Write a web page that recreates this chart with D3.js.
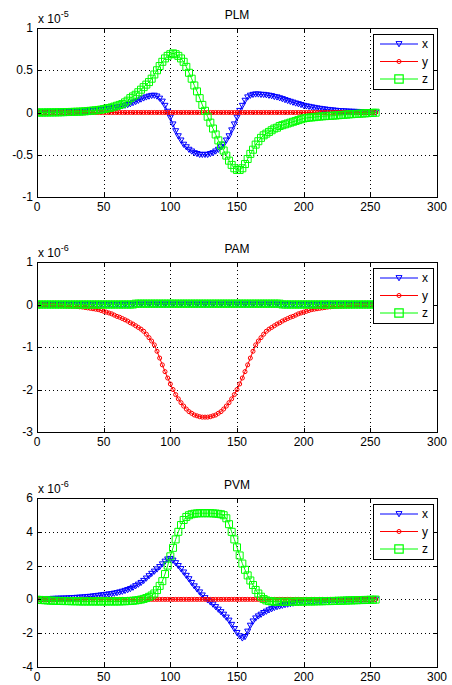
<!DOCTYPE html>
<html>
<head>
    <meta charset="utf-8">
    <title>PLM / PAM / PVM</title>
    <script src="https://d3js.org/d3.v7.min.js"></script>
    <style>
        body { margin: 0; background: #fff; }
        svg text { font-family: 'Liberation Sans', Arial, sans-serif; fill: #000; }
    </style>
</head>
<body>
    <svg id="chart" width="452" height="685"></svg>
    <script>
        // sample index (0..254, every 2nd sample)
        var samples = d3.range(0, 255, 2);

        var xTicks = [0, 50, 100, 150, 200, 250, 300];
        var plmTicks = [-1, -0.5, 0, 0.5, 1];
        var pamTicks = [-3, -2, -1, 0, 1];
        var pvmTicks = [-4, -2, 0, 2, 4, 6];
        var seriesNames = ["x", "y", "z"];

        // PLM, units of 1e-5
        var plmX = [
            0, 0, 0, 0.001, 0.001, 0.002, 0.002, 0.003, 0.004, 0.004,
            0.005, 0.006, 0.007, 0.008, 0.009, 0.01, 0.011, 0.012, 0.014, 0.016,
            0.02, 0.022, 0.025, 0.028, 0.031, 0.035, 0.039, 0.044, 0.049, 0.055,
            0.06, 0.066, 0.074, 0.082, 0.09, 0.1, 0.113, 0.126, 0.14, 0.155,
            0.168, 0.18, 0.19, 0.198, 0.2, 0.19, 0.165, 0.13, 0.08, 0.01,
            -0.06, -0.14, -0.22, -0.28, -0.33, -0.38, -0.41, -0.44, -0.46, -0.48,
            -0.49, -0.5, -0.5, -0.5, -0.5, -0.49, -0.48, -0.46, -0.44, -0.41,
            -0.38, -0.33, -0.28, -0.21, -0.14, -0.06, 0.02, 0.08, 0.14, 0.18,
            0.2, 0.21, 0.215, 0.215, 0.21, 0.21, 0.205, 0.2, 0.195, 0.185,
            0.18, 0.17, 0.16, 0.148, 0.138, 0.128, 0.118, 0.108, 0.1, 0.09,
            0.08, 0.074, 0.068, 0.062, 0.056, 0.05, 0.045, 0.04, 0.036, 0.032,
            0.028, 0.025, 0.022, 0.019, 0.017, 0.015, 0.013, 0.011, 0.01, 0.009,
            0.008, 0.007, 0.006, 0.005, 0.004, 0.003, 0.002, 0.001
        ];
        var plmY = [
            0, 0, 0, 0, 0, 0, 0, 0, 0, 0, 0, 0, 0, 0, 0, 0, 0, 0, 0, 0,
            0, 0, 0, 0, 0, 0, 0, 0, 0, 0, 0, 0, 0, 0, 0, 0, 0, 0, 0, 0,
            0, 0, 0, 0, 0, 0, 0, 0, 0, 0, 0, 0, 0, 0, 0, 0, 0, 0, 0, 0,
            0, 0, 0, 0, 0, 0, 0, 0, 0, 0, 0, 0, 0, 0, 0, 0, 0, 0, 0, 0,
            0, 0, 0, 0, 0, 0, 0, 0, 0, 0, 0, 0, 0, 0, 0, 0, 0, 0, 0, 0,
            0, 0, 0, 0, 0, 0, 0, 0, 0, 0, 0, 0, 0, 0, 0, 0, 0, 0, 0, 0,
            0, 0, 0, 0, 0, 0, 0, 0
        ];
        var plmZ = [
            0, 0, 0, 0, 0.001, 0.001, 0.001, 0.002, 0.002, 0.003,
            0.004, 0.005, 0.006, 0.007, 0.008, 0.009, 0.01, 0.012, 0.014, 0.017,
            0.02, 0.023, 0.026, 0.03, 0.034, 0.04, 0.046, 0.053, 0.06, 0.07,
            0.08, 0.09, 0.1, 0.12, 0.14, 0.17, 0.19, 0.21, 0.24, 0.27,
            0.3, 0.33, 0.36, 0.4, 0.45, 0.5, 0.55, 0.6, 0.64, 0.67,
            0.69, 0.7, 0.69, 0.67, 0.64, 0.6, 0.54, 0.47, 0.4, 0.32,
            0.25, 0.17, 0.09, 0.02, -0.05, -0.12, -0.19, -0.26, -0.33, -0.39,
            -0.45, -0.51, -0.57, -0.62, -0.66, -0.68, -0.68, -0.66, -0.61, -0.55,
            -0.49, -0.44, -0.38, -0.34, -0.3, -0.27, -0.25, -0.23, -0.21, -0.19,
            -0.18, -0.16, -0.15, -0.14, -0.13, -0.12, -0.11, -0.1, -0.09, -0.08,
            -0.07, -0.065, -0.06, -0.058, -0.055, -0.05, -0.048, -0.045, -0.043, -0.04,
            -0.04, -0.037, -0.035, -0.032, -0.03, -0.028, -0.025, -0.022, -0.02, -0.018,
            -0.016, -0.014, -0.012, -0.01, -0.008, -0.006, -0.004, -0.002
        ];

        // PAM, units of 1e-6
        var pamX = [
            0, 0, 0, 0, 0, 0, 0, 0, 0, 0, 0, 0, 0, 0, 0, 0, 0, 0, 0, 0,
            0, 0, 0, 0, 0, 0, 0, 0, 0, 0, 0, 0, 0, 0, 0, 0, 0, 0, 0, 0,
            0, 0, 0, 0, 0, 0, 0, 0, 0, 0, 0, 0, 0, 0, 0, 0, 0, 0, 0, 0,
            0, 0, 0, 0, 0, 0, 0, 0, 0, 0, 0, 0, 0, 0, 0, 0, 0, 0, 0, 0,
            0, 0, 0, 0, 0, 0, 0, 0, 0, 0, 0, 0, 0, 0, 0, 0, 0, 0, 0, 0,
            0, 0, 0, 0, 0, 0, 0, 0, 0, 0, 0, 0, 0, 0, 0, 0, 0, 0, 0, 0,
            0, 0, 0, 0, 0, 0, 0, 0
        ];
        var pamY = [
            -0.01, -0.01, -0.012, -0.015, -0.017, -0.02, -0.022, -0.025, -0.028, -0.031,
            -0.034, -0.037, -0.04, -0.042, -0.045, -0.05, -0.055, -0.06, -0.07, -0.08,
            -0.09, -0.1, -0.11, -0.12, -0.14, -0.16, -0.18, -0.2, -0.22, -0.25,
            -0.28, -0.3, -0.33, -0.36, -0.39, -0.43, -0.46, -0.5, -0.54, -0.58,
            -0.63, -0.7, -0.78, -0.86, -0.95, -1.1, -1.26, -1.42, -1.58, -1.73,
            -1.87, -2.0, -2.12, -2.22, -2.31, -2.39, -2.46, -2.52, -2.56, -2.6,
            -2.62, -2.64, -2.65, -2.65, -2.65, -2.64, -2.62, -2.6, -2.56, -2.52,
            -2.46, -2.39, -2.31, -2.22, -2.12, -2.0, -1.87, -1.73, -1.58, -1.42,
            -1.26, -1.1, -0.95, -0.86, -0.78, -0.7, -0.63, -0.58, -0.54, -0.5,
            -0.46, -0.43, -0.39, -0.36, -0.33, -0.3, -0.28, -0.25, -0.22, -0.2,
            -0.18, -0.16, -0.14, -0.12, -0.11, -0.1, -0.09, -0.08, -0.07, -0.06,
            -0.055, -0.05, -0.045, -0.042, -0.04, -0.037, -0.034, -0.031, -0.028, -0.025,
            -0.022, -0.02, -0.017, -0.015, -0.012, -0.01, -0.01, -0.01
        ];
        var pamZ = [
            0, 0, 0, 0, 0, 0, 0, 0, 0, 0, 0, 0, 0, 0, 0, 0, 0, 0, 0, 0,
            0, 0, 0, 0, 0, 0, 0, 0, 0, 0, 0, 0, 0, 0, 0, 0, 0, 0.02, 0.02, 0.02,
            0.02, 0.02, 0.02, 0.02, 0.02, 0.02, 0.02, 0.02, 0.02, 0.02, 0.02, 0.02, 0.02, 0.02, 0.02, 0.02, 0.02, 0.02, 0.02, 0.02,
            0.02, 0.02, 0.02, 0.02, 0.02, 0.02, 0.02, 0.02, 0.02, 0.02, 0.02, 0.02, 0.02, 0.02, 0.02, 0.02, 0.02, 0.02, 0.02, 0.02,
            0.02, 0.02, 0.02, 0.02, 0.02, 0.02, 0.02, 0.02, 0.02, 0.02, 0.02, 0.02, 0, 0, 0, 0, 0, 0, 0, 0,
            0, 0, 0, 0, 0, 0, 0, 0, 0, 0, 0, 0, 0, 0, 0, 0, 0, 0, 0, 0,
            0, 0, 0, 0, 0, 0, 0, 0
        ];

        // PVM, units of 1e-6
        var pvmX = [
            0.02, 0.02, 0.02, 0.03, 0.03, 0.03, 0.04, 0.04, 0.05, 0.05,
            0.06, 0.06, 0.07, 0.08, 0.09, 0.1, 0.11, 0.12, 0.13, 0.15,
            0.16, 0.18, 0.2, 0.22, 0.24, 0.26, 0.28, 0.3, 0.32, 0.35,
            0.38, 0.42, 0.46, 0.51, 0.56, 0.62, 0.7, 0.79, 0.88, 0.98,
            1.1, 1.24, 1.38, 1.52, 1.65, 1.78, 1.92, 2.08, 2.24, 2.37,
            2.4, 2.3, 2.15, 1.98, 1.8, 1.6, 1.4, 1.2, 0.98, 0.78,
            0.6, 0.42, 0.24, 0.08, -0.05, -0.17, -0.3, -0.45, -0.6, -0.75,
            -0.9, -1.07, -1.25, -1.5, -1.75, -1.98, -2.18, -2.3, -2.22, -1.9,
            -1.55, -1.3, -1.12, -1.0, -0.9, -0.8, -0.72, -0.64, -0.57, -0.5,
            -0.45, -0.41, -0.37, -0.33, -0.3, -0.27, -0.24, -0.21, -0.19, -0.17,
            -0.15, -0.13, -0.12, -0.11, -0.1, -0.09, -0.08, -0.07, -0.06, -0.05,
            -0.05, -0.04, -0.04, -0.03, -0.03, -0.03, -0.02, -0.02, -0.02, -0.01,
            -0.01, -0.01, -0.01, -0.01, 0, 0, 0, 0
        ];
        var pvmY = [
            0, 0, 0, 0, 0, 0, 0, 0, 0, 0, 0, 0, 0, 0, 0, 0, 0, 0, 0, 0,
            0, 0, 0, 0, 0, 0, 0, 0, 0, 0, 0, 0, 0, 0, 0, 0, 0, 0, 0, 0,
            0, 0, 0, 0, 0, 0, 0, 0, 0, 0, 0, 0, 0, 0, 0, 0, 0, 0, 0, 0,
            0, 0, 0, 0, 0, 0, 0, 0, 0, 0, 0, 0, 0, 0, 0, 0, 0, 0, 0, 0,
            0, 0, 0, 0, 0, 0, 0, 0, 0, 0, 0, 0, 0, 0, 0, 0, 0, 0, 0, 0,
            0, 0, 0, 0, 0, 0, 0, 0, 0, 0, 0, 0, 0, 0, 0, 0, 0, 0, 0, 0,
            0, 0, 0, 0, 0, 0, 0, 0
        ];
        var pvmZ = [
            -0.02, -0.03, -0.04, -0.05, -0.06, -0.07, -0.08, -0.08, -0.09, -0.09,
            -0.1, -0.1, -0.1, -0.11, -0.11, -0.11, -0.12, -0.12, -0.12, -0.12,
            -0.12, -0.12, -0.12, -0.12, -0.12, -0.12, -0.12, -0.12, -0.12, -0.12,
            -0.12, -0.12, -0.11, -0.11, -0.1, -0.09, -0.08, -0.06, -0.04, -0.01,
            0.03, 0.08, 0.15, 0.23, 0.35, 0.55, 0.8, 1.08, 1.5, 2.0,
            2.55, 3.05, 3.55, 4.0, 4.4, 4.7, 4.88, 4.98, 5.04, 5.07,
            5.09, 5.1, 5.1, 5.1, 5.1, 5.1, 5.09, 5.08, 5.06, 5.04,
            4.98, 4.8, 4.45, 4.0, 3.55, 3.08, 2.6, 2.12, 1.75, 1.42,
            1.12, 0.85, 0.56, 0.35, 0.16, 0.02, -0.06, -0.1, -0.12, -0.13,
            -0.14, -0.14, -0.14, -0.14, -0.14, -0.14, -0.13, -0.13, -0.13, -0.13,
            -0.13, -0.12, -0.12, -0.12, -0.12, -0.11, -0.11, -0.11, -0.1, -0.1,
            -0.1, -0.09, -0.09, -0.08, -0.08, -0.07, -0.07, -0.06, -0.06, -0.05,
            -0.05, -0.04, -0.04, -0.03, -0.03, -0.02, -0.02, -0.01
        ];

        var colors = ["#0000ff", "#ff0000", "#00ff00"];
        // marker shapes: down triangle, circle, square
        var markerPaths = [
            "M-3,-2.4L3,-2.4L0,2.8Z",
            d3.symbol(d3.symbolCircle, 13)(),
            "M-3.5,-3.5H3.5V3.5H-3.5Z"
        ];

        var panels = [
            { title: "PLM", exp: "-5", top: 28, bottom: 197, domain: [-1, 1], ticks: plmTicks, data: [plmX, plmY, plmZ] },
            { title: "PAM", exp: "-6", top: 262, bottom: 432, domain: [-3, 1], ticks: pamTicks, data: [pamX, pamY, pamZ] },
            { title: "PVM", exp: "-6", top: 498, bottom: 667, domain: [-4, 6], ticks: pvmTicks, data: [pvmX, pvmY, pvmZ] }
        ];

        var svg = d3.select("#chart");
        var left = 37, right = 437;

        var x = d3.scaleLinear().domain([0, 300]).range([left, right]);

        panels.forEach(function (p) {
            var y = d3.scaleLinear().domain(p.domain).range([p.bottom, p.top]);
            var g = svg.append("g");

            // grid (dotted)
            g.selectAll(".vgrid").data(xTicks.slice(1, -1)).enter().append("line")
                .attr("x1", d => Math.round(x(d)) + 0.5).attr("x2", d => Math.round(x(d)) + 0.5)
                .attr("y1", p.top).attr("y2", p.bottom)
                .attr("stroke", "#000").attr("stroke-dasharray", "1,3");
            g.selectAll(".hgrid").data(p.ticks.slice(1, -1)).enter().append("line")
                .attr("x1", left).attr("x2", right)
                .attr("y1", d => Math.round(y(d)) + 0.5).attr("y2", d => Math.round(y(d)) + 0.5)
                .attr("stroke", "#000").attr("stroke-dasharray", "1,3");

            // series: line + markers, drawn x, y, z
            var clip = "clip-" + p.title;
            g.append("clipPath").attr("id", clip).append("rect")
                .attr("x", left).attr("y", p.top).attr("width", right - left).attr("height", p.bottom - p.top);
            var plot = g.append("g").attr("clip-path", "url(#" + clip + ")");
            p.data.forEach(function (vals, si) {
                var pts = samples.map((s, i) => [s, vals[i]]);
                plot.append("path")
                    .attr("d", d3.line().x(d => x(d[0])).y(d => y(d[1]))(pts))
                    .attr("fill", "none").attr("stroke", colors[si]).attr("stroke-width", 1);
                plot.selectAll(".m" + si).data(pts).enter().append("path")
                    .attr("d", markerPaths[si])
                    .attr("transform", d => "translate(" + x(d[0]) + "," + y(d[1]) + ")")
                    .attr("fill", "none").attr("stroke", colors[si]).attr("stroke-width", 1);
            });

            // box
            g.append("rect")
                .attr("x", left + 0.5).attr("y", p.top + 0.5)
                .attr("width", right - left).attr("height", p.bottom - p.top)
                .attr("fill", "none").attr("stroke", "#000");

            // ticks inside, on all four sides
            xTicks.forEach(function (t) {
                var xp = Math.round(x(t)) + 0.5;
                g.append("line").attr("x1", xp).attr("x2", xp).attr("y1", p.bottom).attr("y2", p.bottom - 4).attr("stroke", "#000");
                g.append("line").attr("x1", xp).attr("x2", xp).attr("y1", p.top).attr("y2", p.top + 4).attr("stroke", "#000");
            });
            p.ticks.forEach(function (t) {
                var yp = Math.round(y(t)) + 0.5;
                g.append("line").attr("x1", left).attr("x2", left + 4).attr("y1", yp).attr("y2", yp).attr("stroke", "#000");
                g.append("line").attr("x1", right + 1).attr("x2", right - 3).attr("y1", yp).attr("y2", yp).attr("stroke", "#000");
            });

            // tick labels
            g.selectAll(".xl").data(xTicks).enter().append("text")
                .attr("x", d => x(d)).attr("y", p.bottom + 14)
                .attr("text-anchor", "middle").attr("font-size", 12)
                .text(d => d);
            g.selectAll(".yl").data(p.ticks).enter().append("text")
                .attr("x", left - 4).attr("y", d => y(d) + 4)
                .attr("text-anchor", "end").attr("font-size", 12)
                .text(d => d);

            // exponent label
            var ex = g.append("text").attr("x", left + 1).attr("y", p.top - 5).attr("font-size", 12);
            ex.append("tspan").text("x 10");
            ex.append("tspan").attr("dy", -6).attr("font-size", 9).text(p.exp);

            // title
            g.append("text").attr("x", (left + right) / 2).attr("y", p.top - 9)
                .attr("text-anchor", "middle").attr("font-size", 12).text(p.title);

            // legend
            var lx = 373, ly = p.top + 6, lw = 60, lh = 55;
            var lg = g.append("g");
            lg.append("rect").attr("x", lx + 0.5).attr("y", ly + 0.5).attr("width", lw).attr("height", lh)
                .attr("fill", "#fff").attr("stroke", "#000");
            seriesNames.forEach(function (name, si) {
                var yy = ly + 10 + si * 17.5;
                lg.append("line").attr("x1", lx + 7).attr("x2", lx + 45).attr("y1", yy).attr("y2", yy)
                    .attr("stroke", colors[si]);
                lg.append("path").attr("d", markerPaths[si])
                    .attr("transform", "translate(" + (lx + 26) + "," + yy + ")" + (si === 2 ? " scale(1.2)" : ""))
                    .attr("fill", "none").attr("stroke", colors[si]);
                lg.append("text").attr("x", lx + 49).attr("y", yy + 4).attr("font-size", 12).text(name);
            });
        });
    </script>
</body>
</html>
